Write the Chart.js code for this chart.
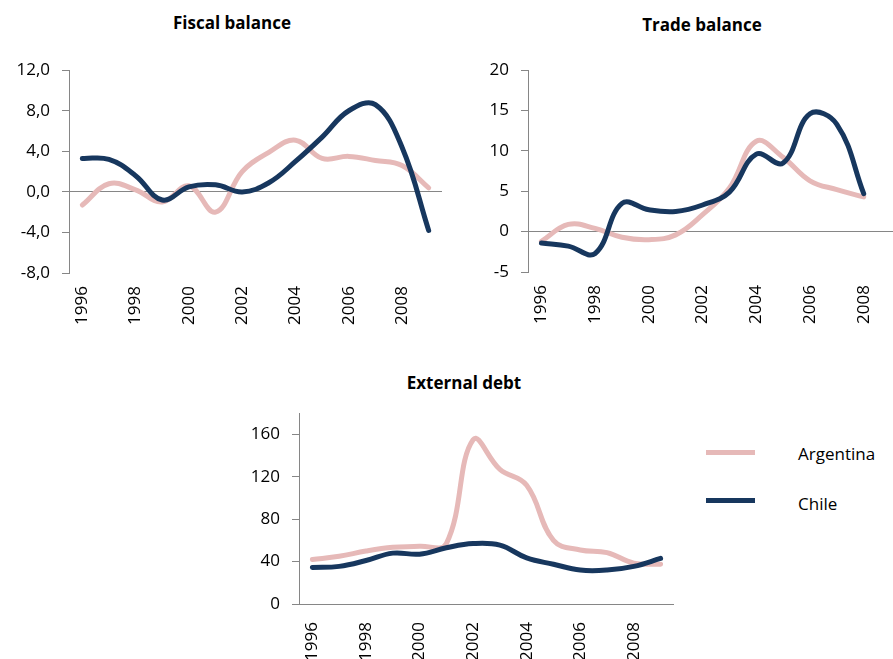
<!DOCTYPE html>
<html>
<head>
<meta charset="utf-8">
<script src="https://cdn.jsdelivr.net/npm/chart.js@4"></script>
<style>
    body { margin: 0; width: 893px; height: 659px; overflow: hidden; background: #fff; position: relative; font-family: "Open Sans", sans-serif; }
    canvas { position: absolute; }
    .title { position: absolute; font-weight: bold; font-size: 17px; color: #000; transform: translate(-50%, -50%); white-space: nowrap; }
    .swatch { position: absolute; width: 49px; height: 5px; }
    .lbl { position: absolute; font-size: 17px; color: #000; transform: translateY(-50%); }
</style>
</head>
<body>
<div class="title" style="left:232px; top:22px">Fiscal balance</div>
<div class="title" style="left:702px; top:24px">Trade balance</div>
<div class="title" style="left:464px; top:382px">External debt</div>

<canvas id="fiscal" width="442" height="287" style="left:0; top:48px"></canvas>
<canvas id="trade" width="454" height="287" style="left:450px; top:48px"></canvas>
<canvas id="debt" width="444" height="273" style="left:230px; top:391px"></canvas>

<div class="swatch" style="left:706px; top:450px; background:#E6B9B8"></div>
<div class="lbl" style="left:798px; top:453px">Argentina</div>
<div class="swatch" style="left:706px; top:498px; background:#17375E"></div>
<div class="lbl" style="left:798px; top:503px">Chile</div>

<script>
const years = ['1996', '1997', '1998', '1999', '2000', '2001', '2002', '2003', '2004', '2005', '2006', '2007', '2008', '2009'];

// Fiscal balance (% of GDP)
const fiscalArgentina = [-1.3, 0.8, 0.2, -1.0, 0.6, -2.0, 2.0, 3.9, 5.1, 3.3, 3.5, 3.1, 2.6, 0.4];
const fiscalChile = [3.3, 3.2, 1.6, -0.8, 0.5, 0.7, 0.0, 0.9, 3.0, 5.4, 8.0, 8.6, 4.4, -3.8];

// Trade balance (no 2009 value)
const tradeArgentina = [-1.2, 0.9, 0.4, -0.7, -1.0, -0.4, 2.1, 5.4, 11.2, 9.2, 6.3, 5.2, 4.3, null];
const tradeChile = [-1.4, -1.8, -2.7, 3.5, 2.7, 2.5, 3.3, 4.9, 9.6, 8.5, 14.6, 13.3, 4.7, null];

// External debt
const debtArgentina = [42, 45, 50, 53.5, 54.5, 57, 155, 127, 112, 60, 51, 48.5, 38.5, 37.5];
const debtChile = [34.5, 35.5, 41, 48, 47, 53, 57, 55.5, 43.5, 37.5, 32, 32, 35.5, 43];

const argColor = '#E6B9B8';
const chileColor = '#17375E';
const axisGray = '#868686';
const tickFont = { family: 'Open Sans', size: 17 };

function commaFmt(v) {
    return v.toFixed(1).replace('.', ',');
}

function makeChart(id, argData, chileData, y, yWidth, xHeight, xPad) {
    const ctx = document.getElementById(id).getContext('2d');
    return new Chart(ctx, {
        type: 'line',
        data: {
            labels: years,
            datasets: [
                { label: 'Argentina', data: argData, borderColor: argColor, order: 1 },
                { label: 'Chile', data: chileData, borderColor: chileColor, order: 0 }
            ]
        },
        options: {
            responsive: false,
            animation: false,
            devicePixelRatio: 1,
            spanGaps: false,
            layout: { padding: 0 },
            elements: {
                line: { borderWidth: 5, tension: 0.4, borderCapStyle: 'round', borderJoinStyle: 'round' },
                point: { radius: 0 }
            },
            plugins: { legend: { display: false }, tooltip: { enabled: false } },
            scales: {
                x: {
                    offset: true,
                    grid: { display: false },
                    border: { display: false },
                    ticks: {
                        autoSkip: false, minRotation: 90, maxRotation: 90, padding: xPad,
                        color: '#000', font: tickFont,
                        callback: function (v, i) { return i % 2 === 0 ? this.getLabelForValue(v) : ''; }
                    },
                    afterFit: function (s) { s.height = xHeight; s.paddingLeft = 0; s.paddingRight = 0; }
                },
                y: {
                    min: y.min, max: y.max,
                    grid: {
                        color: c => (c.tick && c.tick.value === 0) ? axisGray : 'rgba(0,0,0,0)',
                        tickColor: axisGray, tickLength: 7, lineWidth: 1
                    },
                    border: { color: axisGray, width: 1 },
                    ticks: {
                        stepSize: y.step, includeBounds: false, padding: 12,
                        color: '#000', font: tickFont,
                        callback: y.fmt || (v => v)
                    },
                    afterFit: function (s) { s.width = yWidth; }
                }
            }
        }
    });
}

makeChart('fiscal', fiscalArgentina, fiscalChile, { min: -8, max: 12, step: 4, fmt: commaFmt }, 69, 62, 5);
makeChart('trade', tradeArgentina, tradeChile, { min: -5, max: 20, step: 5 }, 78, 63, 5);
makeChart('debt', debtArgentina, debtChile, { min: 0, max: 180, step: 40 }, 69, 60, 10);
</script>
</body>
</html>
